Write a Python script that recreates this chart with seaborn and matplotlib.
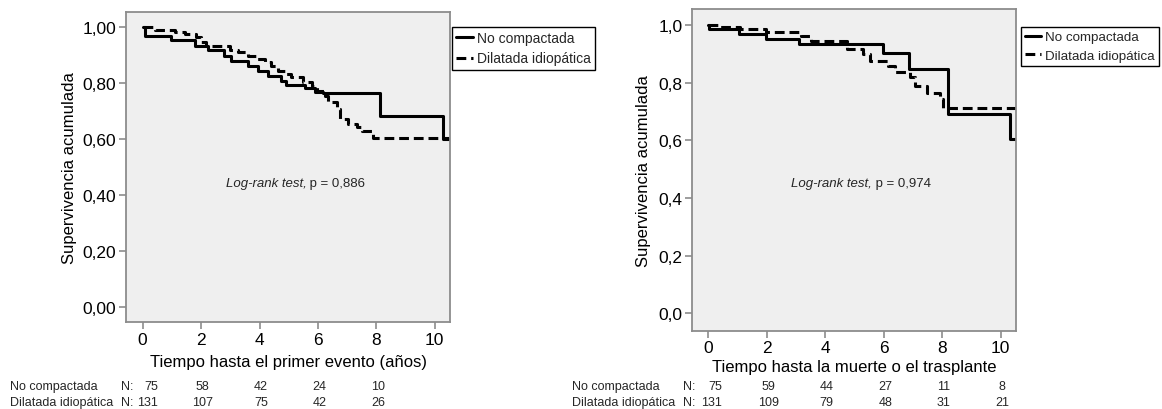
import numpy as np
import pandas as pd
import matplotlib
matplotlib.use("Agg")
import matplotlib.pyplot as plt
import seaborn as sns
from matplotlib import transforms

sns.set_theme(style="white")
plt.rcParams["font.family"] = ["Liberation Sans", "DejaVu Sans"]

groups = ["No compactada", "Dilatada idiopática"]
x_ticks = [0, 2, 4, 6, 8, 10]

# ---- Panel 1: time to first event ----
p1_nc_t = [0, 0.09, 0.98, 1.78, 2.24, 2.8, 3.03, 3.6, 3.95, 4.29, 4.75, 4.92, 5.56, 5.9, 6.18, 8.13, 10.27, 10.47]
p1_nc_s = [1.0, 0.968, 0.954, 0.932, 0.916, 0.897, 0.879, 0.861, 0.843, 0.825, 0.808, 0.792, 0.780, 0.768, 0.763, 0.683, 0.600, 0.600]
p1_di_t = [0, 0.41, 1.1, 1.44, 1.84, 2.0, 2.18, 2.98, 3.26, 3.6, 3.89, 4.18, 4.4, 4.63, 4.86, 5.09, 5.5, 5.79,
           5.96, 6.24, 6.36, 6.64, 6.76, 7.04, 7.33, 7.5, 7.9, 10.47]
p1_di_s = [1.0, 0.989, 0.980, 0.974, 0.962, 0.944, 0.930, 0.918, 0.909, 0.897, 0.885, 0.873, 0.861, 0.843, 0.831, 0.820,
           0.802, 0.790, 0.772, 0.754, 0.730, 0.707, 0.671, 0.653, 0.641, 0.629, 0.604, 0.604]
p1_risk_nc = ["75", "58", "42", "24", "10"]
p1_risk_di = ["131", "107", "75", "42", "26"]
p1_y_ticks = [0.0, 0.2, 0.4, 0.6, 0.8, 1.0]
p1_y_labels = ["0,00", "0,20", "0,40", "0,60", "0,80", "1,00"]
p1_xlabel = "Tiempo hasta el primer evento (años)"
p1_p = " p = 0,886"

# ---- Panel 2: time to death or transplant ----
p2_nc_t = [0, 0.03, 1.05, 1.96, 3.1, 5.99, 6.88, 8.21, 10.33, 10.52]
p2_nc_s = [1.0, 0.986, 0.968, 0.951, 0.934, 0.901, 0.848, 0.690, 0.606, 0.606]
p2_di_t = [0, 0.35, 1.1, 1.96, 3.16, 3.5, 4.73, 5.3, 5.53, 6.16, 6.39, 6.9, 7.07, 7.47, 7.93, 8.04, 10.52]
p2_di_s = [1.0, 0.994, 0.986, 0.974, 0.963, 0.943, 0.915, 0.900, 0.875, 0.857, 0.835, 0.821, 0.788, 0.765, 0.742, 0.713, 0.713]
p2_risk_nc = ["75", "59", "44", "27", "11", "8"]
p2_risk_di = ["131", "109", "79", "48", "31", "21"]
p2_y_labels = ["0,0", "0,2", "0,4", "0,6", "0,8", "1,0"]
p2_xlabel = "Tiempo hasta la muerte o el trasplante"
p2_p = " p = 0,974"

W, H = 1162, 410
fig = plt.figure(figsize=(W / 100, H / 100), dpi=100)
fig.patch.set_facecolor("white")


def rect(l, t, r, b):
    return [l / W, 1 - b / H, (r - l) / W, (b - t) / H]


ax1 = fig.add_axes(rect(126, 13.3, 450, 323.3))
ax2 = fig.add_axes(rect(692.2, 10, 1015.9, 331.7))

panels = [
    dict(ax=ax1, nc=(p1_nc_t, p1_nc_s), di=(p1_di_t, p1_di_s), ylab=p1_y_labels, xlab=p1_xlabel,
         xlim=(-0.57, 10.52), ylim=(-0.053, 1.051), risk_nc=p1_risk_nc, risk_di=p1_risk_di,
         first=(0.31, 0.17), pval=p1_p, ptxt=(5.6, 0.443), ylabx=-0.173, xlaby=-0.128,
         leg=(452, 28), legfs=10, lab_x=10, n_x=133),
    dict(ax=ax2, nc=(p2_nc_t, p2_nc_s), di=(p2_di_t, p2_di_s), ylab=p2_y_labels, xlab=p2_xlabel,
         xlim=(-0.55, 10.52), ylim=(-0.06, 1.055), risk_nc=p2_risk_nc, risk_di=p2_risk_di,
         first=(0.25, 0.12), pval=p2_p, ptxt=(5.6, 0.452), ylabx=-0.149, xlaby=-0.112,
         leg=(1021, 28), legfs=9.6, lab_x=572, n_x=695),
]

for P in panels:
    ax = P["ax"]
    ax.set_facecolor("#efefef")
    df_nc = pd.DataFrame({"t": P["nc"][0], "s": P["nc"][1]})
    df_di = pd.DataFrame({"t": P["di"][0], "s": P["di"][1]})
    sns.lineplot(data=df_nc, x="t", y="s", ax=ax, drawstyle="steps-post", estimator=None,
                 color="black", linewidth=2.2, label=groups[0])
    sns.lineplot(data=df_di, x="t", y="s", ax=ax, drawstyle="steps-post", estimator=None,
                 color="black", linewidth=2.2, label=groups[1])
    ax.lines[1].set_dashes((3.2, 1.6))
    ax.set_xlim(*P["xlim"])
    ax.set_ylim(*P["ylim"])
    ax.set_xticks(x_ticks)
    ax.set_xticklabels([str(v) for v in x_ticks], fontsize=12.5)
    ax.set_yticks(p1_y_ticks)
    ax.set_yticklabels(P["ylab"], fontsize=12.5)
    ax.tick_params(axis="both", direction="out", length=5, width=1.2, color="#8c8c8c",
                   labelcolor="black", pad=2, bottom=True, left=True)
    for sp in ax.spines.values():
        sp.set_color("#8c8c8c")
        sp.set_linewidth(1.3)
    ax.set_xlabel(P["xlab"], fontsize=12, color="black")
    ax.set_ylabel("Supervivencia acumulada", fontsize=12, color="black")
    ax.xaxis.set_label_coords(0.5, P["xlaby"])
    ax.xaxis.label.set_va("center")
    ax.yaxis.set_label_coords(P["ylabx"], 0.5)
    ax.yaxis.label.set_va("center")

    # log-rank annotation
    px, py = P["ptxt"]
    ax.text(px, py, "Log-rank test,", style="italic", ha="right", va="center", fontsize=9.5)
    ax.text(px, py, P["pval"], ha="left", va="center", fontsize=9.5)

    # legend
    lx, ly = P["leg"]
    leg = ax.legend(loc="upper left", bbox_to_anchor=(lx / W, 1 - ly / H), bbox_transform=fig.transFigure,
                    fontsize=P["legfs"], frameon=True, fancybox=False, framealpha=1, edgecolor="black",
                    borderpad=0.3, handlelength=1.2, handletextpad=0.3, labelspacing=0.45, borderaxespad=0)
    leg.get_frame().set_linewidth(1.0)

    # numbers at risk
    tr = transforms.blended_transform_factory(ax.transData, fig.transFigure)
    y1, y2 = 1 - 386.7 / H, 1 - 403 / H
    fs = 9
    fig.text(P["lab_x"] / W, y1, groups[0], ha="left", va="center", fontsize=fs)
    fig.text(P["lab_x"] / W, y2, groups[1], ha="left", va="center", fontsize=fs)
    fig.text(P["n_x"] / W, y1, "N:", ha="right", va="center", fontsize=fs)
    fig.text(P["n_x"] / W, y2, "N:", ha="right", va="center", fontsize=fs)
    for i, v in enumerate(P["risk_nc"]):
        xx = P["first"][0] if i == 0 else x_ticks[i] + 0.05
        ax.text(xx, y1, v, transform=tr, ha="center", va="center", fontsize=fs, clip_on=False)
    for i, v in enumerate(P["risk_di"]):
        xx = P["first"][1] if i == 0 else x_ticks[i] + 0.05
        ax.text(xx, y2, v, transform=tr, ha="center", va="center", fontsize=fs, clip_on=False)

fig.savefig("out.png", dpi=100, facecolor="white")
